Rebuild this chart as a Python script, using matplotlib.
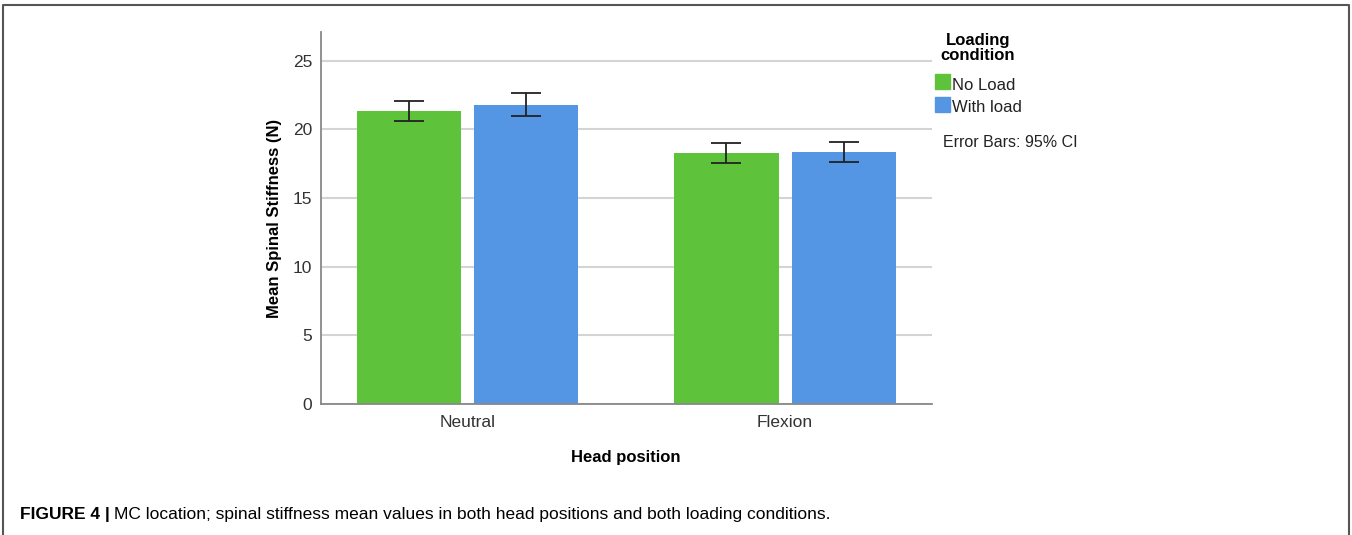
import matplotlib.pyplot as plt
from matplotlib.patches import Rectangle
from matplotlib.lines import Line2D
import numpy as np

plt.rcParams['font.family'] = ['Liberation Sans', 'DejaVu Sans']

positions = ["Neutral", "Flexion"]
conditions = ["No Load", "With load"]
means = {"No Load": [21.33, 18.27], "With load": [21.81, 18.35]}
ci_low = {"No Load": [20.63, 17.54], "With load": [20.97, 17.62]}
ci_high = {"No Load": [22.06, 19.02], "With load": [22.67, 19.10]}
colors = {"No Load": "#5ec23a", "With load": "#5596e4"}
yticks = [0, 5, 10, 15, 20, 25]

fig = plt.figure(figsize=(13.52, 5.35), dpi=100)
ax = fig.add_axes([320.5 / 1352, 1 - 404 / 535, (931.7 - 320.5) / 1352, (404 - 32) / 535])

x = np.arange(len(positions))
offsets = [-0.183, 0.186]
width = 0.328
for cond, off in zip(conditions, offsets):
    m = np.array(means[cond])
    lo = m - np.array(ci_low[cond])
    hi = np.array(ci_high[cond]) - m
    ax.bar(x + off, m, width, color=colors[cond], zorder=2)
    ax.errorbar(x + off, m, yerr=[lo, hi], fmt="none", ecolor="#222222",
                elinewidth=1.3, capsize=10.5, capthick=1.3, zorder=3)

ax.set_xlim(-0.463, 1.464)
ax.set_ylim(0, 27.1)
ax.set_yticks(yticks)
ax.set_xticks(x)
ax.set_xticklabels(positions)
ax.tick_params(length=0, labelsize=12.5, colors="#333333", pad=6)
ax.tick_params(axis="x", pad=8)
ax.yaxis.grid(True, color="#d4d4d4", linewidth=1.5, zorder=0)
ax.set_axisbelow(True)
for s in ["top", "right"]:
    ax.spines[s].set_visible(False)
for s in ["left", "bottom"]:
    ax.spines[s].set_color("#888888")
    ax.spines[s].set_linewidth(1.3)

ax.set_ylabel("Mean Spinal Stiffness (N)", fontsize=12, fontweight="bold", labelpad=8)
ax.set_xlabel("Head position", fontsize=12, fontweight="bold", labelpad=14)

# legend drawn by hand
fig.text(978 / 1352, 1 - 48 / 535, "Loading\ncondition", ha="center", va="center",
         fontsize=12, fontweight="bold", linespacing=1.05)
for i, cond in enumerate(conditions):
    yc = 82 + i * 23
    fig.patches.append(Rectangle((935 / 1352, 1 - (yc + 7) / 535), 15 / 1352, 15 / 535,
                                 transform=fig.transFigure, color=colors[cond]))
    fig.text(952 / 1352, 1 - (yc + 3) / 535, cond, ha="left", va="center",
             fontsize=12, color="#222222")
fig.text(943 / 1352, 1 - 142 / 535, "Error Bars: 95% CI", ha="left", va="center",
         fontsize=11.5, color="#222222")

# caption
bold = fig.text(20 / 1352, 1 - 514 / 535, "FIGURE 4 |", ha="left", va="center",
                fontsize=12.5, fontweight="bold")
fig.canvas.draw()
bb = bold.get_window_extent()
fig.text((bb.x1 + 4) / 1352, 1 - 514 / 535,
         "MC location; spinal stiffness mean values in both head positions and both loading conditions.",
         ha="left", va="center", fontsize=12.5)

# frame around figure
fig.lines.append(Line2D([3 / 1352, 3 / 1352, 1349 / 1352, 1349 / 1352],
                        [0, 1 - 5 / 535, 1 - 5 / 535, 0],
                        transform=fig.transFigure, color="#555555", linewidth=1.5))

fig.savefig("out.png", dpi=100)
